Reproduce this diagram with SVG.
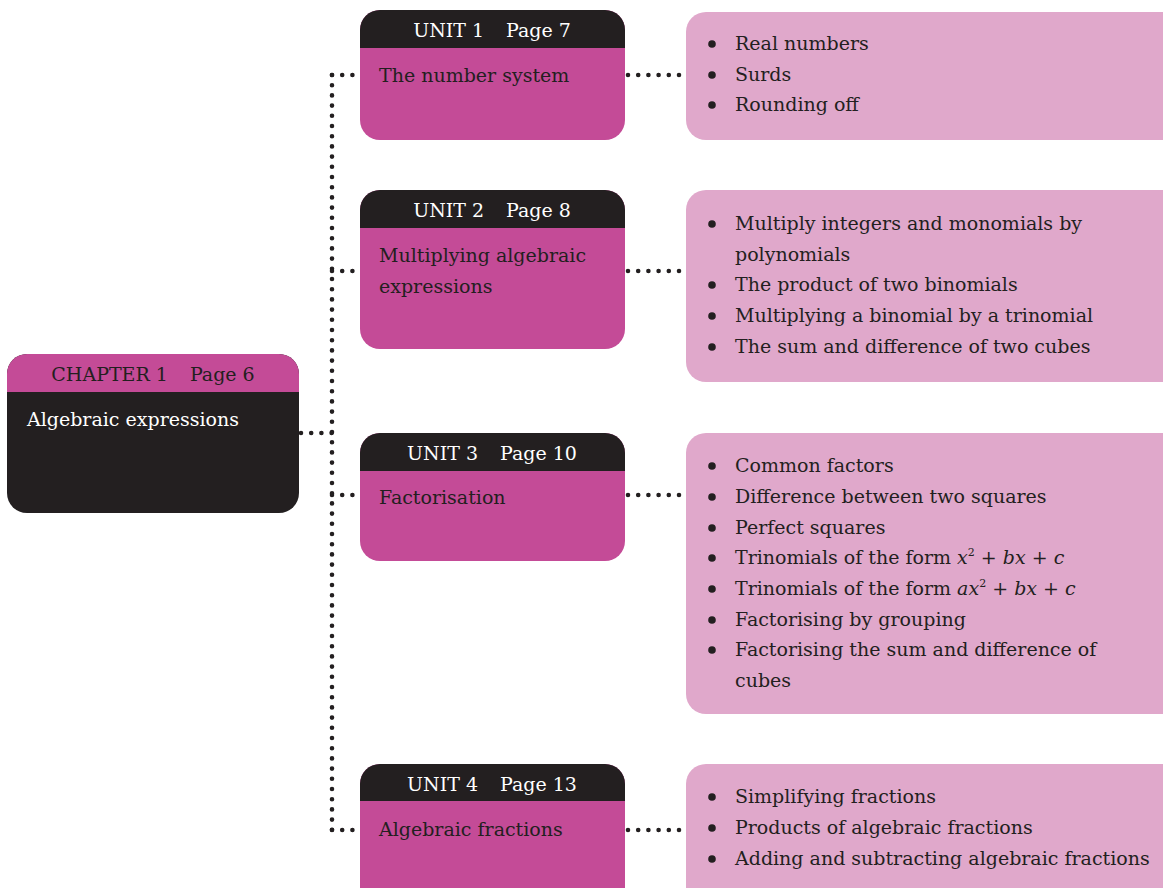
<svg xmlns="http://www.w3.org/2000/svg" width="1163" height="888" viewBox="0 0 1163 888">
<style>
text{font-family:"DejaVu Serif","Liberation Serif",serif;font-size:19px;fill:#231f20}
.hd{fill:#ffffff;text-anchor:middle}
.hdc{text-anchor:middle}
.wt{fill:#ffffff}
.dark{fill:#231f20}
.mag{fill:#c44b97}
.lp{fill:#e0a8cb}
.dots{fill:none;stroke:#231f20;stroke-width:4.6;stroke-linecap:round;stroke-dasharray:0 10.2}
.bul{fill:#231f20}
.i{font-style:italic}
</style>
<defs>
<clipPath id="c0"><rect x="7" y="354" width="292" height="159" rx="20"/></clipPath>
<clipPath id="c1"><rect x="360" y="10" width="265" height="130" rx="20"/></clipPath>
<clipPath id="c2"><rect x="360" y="190" width="265" height="159" rx="20"/></clipPath>
<clipPath id="c3"><rect x="360" y="433" width="265" height="128" rx="20"/></clipPath>
<clipPath id="c4"><rect x="360" y="764" width="265" height="150" rx="20"/></clipPath>
</defs>
<g id="connectors">
<path class="dots" d="M332 75 V830"/>
<path class="dots" d="M301 433 H332"/>
<path class="dots" d="M332 75 H356 M332 271 H356 M332 495 H356 M332 830 H356"/>
<path class="dots" d="M628 75 H684 M628 271 H684 M628 495 H684 M628 830 H684"/>
</g>
<g id="chapter1">
<g clip-path="url(#c0)">
<rect class="dark" x="7" y="354" width="292" height="159"/>
<rect class="mag" x="7" y="354" width="292" height="38"/>
</g>
<text class="hdc" x="153" y="381">CHAPTER 1<tspan dx="22">Page 6</tspan></text>
<text class="wt" x="27" y="426">Algebraic expressions</text>
</g>
<g id="unit1">
<g clip-path="url(#c1)">
<rect class="mag" x="360" y="10" width="265" height="130"/>
<rect class="dark" x="360" y="10" width="265" height="38"/>
</g>
<text class="hd" x="492" y="37">UNIT 1<tspan dx="22">Page 7</tspan></text>
<text x="379" y="82">The number system</text>
</g>
<g id="unit2">
<g clip-path="url(#c2)">
<rect class="mag" x="360" y="190" width="265" height="159"/>
<rect class="dark" x="360" y="190" width="265" height="38"/>
</g>
<text class="hd" x="492" y="217">UNIT 2<tspan dx="22">Page 8</tspan></text>
<text x="379" y="262">Multiplying algebraic</text>
<text x="379" y="293">expressions</text>
</g>
<g id="unit3">
<g clip-path="url(#c3)">
<rect class="mag" x="360" y="433" width="265" height="128"/>
<rect class="dark" x="360" y="433" width="265" height="38"/>
</g>
<text class="hd" x="492" y="460">UNIT 3<tspan dx="22">Page 10</tspan></text>
<text x="379" y="504">Factorisation</text>
</g>
<g id="unit4">
<g clip-path="url(#c4)">
<rect class="mag" x="360" y="764" width="265" height="150"/>
<rect class="dark" x="360" y="764" width="265" height="37"/>
</g>
<text class="hd" x="492" y="791">UNIT 4<tspan dx="22">Page 13</tspan></text>
<text x="379" y="836">Algebraic fractions</text>
</g>
<g id="topics1">
<rect class="lp" x="686" y="12" width="500" height="128" rx="20"/>
<circle class="bul" cx="712" cy="44" r="3.8"/>
<circle class="bul" cx="712" cy="75" r="3.8"/>
<circle class="bul" cx="712" cy="105" r="3.8"/>
<text x="735" y="50">Real numbers</text>
<text x="735" y="81">Surds</text>
<text x="735" y="111">Rounding off</text>
</g>
<g id="topics2">
<rect class="lp" x="686" y="190" width="500" height="192" rx="20"/>
<circle class="bul" cx="712" cy="224" r="3.8"/>
<circle class="bul" cx="712" cy="285" r="3.8"/>
<circle class="bul" cx="712" cy="316" r="3.8"/>
<circle class="bul" cx="712" cy="347" r="3.8"/>
<text x="735" y="230">Multiply integers and monomials by</text>
<text x="735" y="261">polynomials</text>
<text x="735" y="291">The product of two binomials</text>
<text x="735" y="322">Multiplying a binomial by a trinomial</text>
<text x="735" y="353">The sum and difference of two cubes</text>
</g>
<g id="topics3">
<rect class="lp" x="686" y="433" width="500" height="281" rx="20"/>
<circle class="bul" cx="712" cy="466" r="3.8"/>
<circle class="bul" cx="712" cy="497" r="3.8"/>
<circle class="bul" cx="712" cy="528" r="3.8"/>
<circle class="bul" cx="712" cy="558" r="3.8"/>
<circle class="bul" cx="712" cy="589" r="3.8"/>
<circle class="bul" cx="712" cy="620" r="3.8"/>
<circle class="bul" cx="712" cy="650" r="3.8"/>
<text x="735" y="472">Common factors</text>
<text x="735" y="503">Difference between two squares</text>
<text x="735" y="534">Perfect squares</text>
<text x="735" y="564">Trinomials of the form <tspan class="i">x</tspan><tspan dy="-8" font-size="11">2</tspan><tspan dy="8"> + </tspan><tspan class="i">bx</tspan> + <tspan class="i">c</tspan></text>
<text x="735" y="595">Trinomials of the form <tspan class="i">ax</tspan><tspan dy="-8" font-size="11">2</tspan><tspan dy="8"> + </tspan><tspan class="i">bx</tspan> + <tspan class="i">c</tspan></text>
<text x="735" y="626">Factorising by grouping</text>
<text x="735" y="656">Factorising the sum and difference of</text>
<text x="735" y="687">cubes</text>
</g>
<g id="topics4">
<rect class="lp" x="686" y="764" width="500" height="150" rx="20"/>
<circle class="bul" cx="712" cy="797" r="3.8"/>
<circle class="bul" cx="712" cy="828" r="3.8"/>
<circle class="bul" cx="712" cy="859" r="3.8"/>
<text x="735" y="803">Simplifying fractions</text>
<text x="735" y="834">Products of algebraic fractions</text>
<text x="735" y="865">Adding and subtracting algebraic fractions</text>
</g>
</svg>
